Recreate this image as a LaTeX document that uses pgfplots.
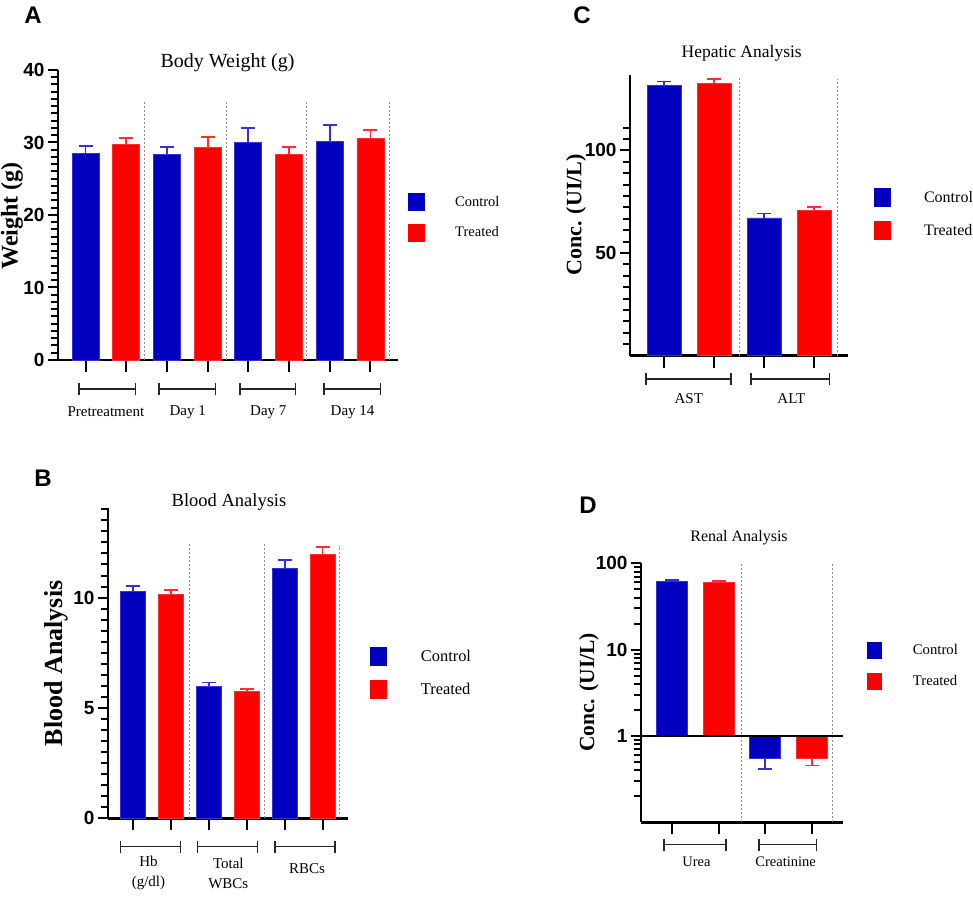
\documentclass[border=0pt]{standalone}
\usepackage{fontspec}
\setmainfont{Liberation Serif}
\setsansfont{Liberation Sans}
\usepackage{pgfplots}
\pgfplotsset{compat=1.18}
\usetikzlibrary{arrows.meta}
\definecolor{cblue}{RGB}{0,0,190}
\definecolor{cred}{RGB}{255,0,0}
\definecolor{eblue}{RGB}{50,50,215}
\definecolor{ered}{RGB}{255,45,45}
\definecolor{sepgray}{RGB}{140,140,140}
\newcommand\tk{\fontsize{19}{19}\selectfont\sffamily\bfseries}
\newcommand\fs[1]{\fontsize{#1}{#1}\selectfont}
\tikzset{brk/.style={line width=1.5pt, black!85, {Bar[width=12pt]}-{Bar[width=12pt]}},
  mtick/.style={black, line width=2pt, line cap=rect}}
\pgfplotsset{
 panel/.style={
  scale only axis, clip=false,
  axis lines*=left,
  axis line style={line width=2.5pt},
  tick align=outside,
  major tick length=10pt,
  tick style={black, line width=2pt},
  xtick=\empty,
  ticklabel style={font=\tk},
  /pgf/number format/assume math mode=true,
  extra x tick style={major tick length=12pt, tick style={line width=2pt}},
  legend cell align=left,
 },
 cbar/.style={ybar, bar shift=0pt, fill=cblue, draw=eblue, line width=0.8pt,
   /pgfplots/error bars/y explicit,
   /pgfplots/error bars/error bar style={line width=1.8pt, eblue},
   /pgfplots/error bars/error mark options={rotate=90, mark size=7pt, line width=1.8pt, eblue}},
 rbar/.style={ybar, bar shift=0pt, fill=cred, draw=ered, line width=0.8pt,
   /pgfplots/error bars/y explicit,
   /pgfplots/error bars/error bar style={line width=1.8pt, ered},
   /pgfplots/error bars/error mark options={rotate=90, mark size=7pt, line width=1.8pt, ered}},
 sep/.style={sepgray, dash pattern=on 2pt off 2pt, line width=1pt, mark=none, forget plot},
}
\begin{document}
\begin{tikzpicture}
\useasboundingbox (0,0) rectangle (973pt,897pt);
% ---------------- Panel A ----------------
\node[font=\fs{24}\sffamily\bfseries] at (33pt,882pt) {A};
\node[font=\fs{20}] at (227.5pt,834pt) {Body Weight (g)};
\node[font=\fs{24}\bfseries, rotate=90] at (12pt,681pt) {Weight (g)};
\begin{axis}[panel, at={(58pt,537pt)}, anchor=south west,
  width=340pt, height=290pt,
  xmin=0.324, xmax=8.676, ymin=0, ymax=40,
  ytick={0,10,20,30,40},
  extra x ticks={1,2,3,4,5,6,7,8}, extra x tick labels={},
  legend style={at={(1.030,0.575)}, anchor=north west, draw=none, fill=none,
    inner sep=0pt, nodes={inner sep=0pt}, font=\fs{14.5}, row sep=12.5pt,
    /tikz/every odd column/.append style={column sep=30pt}},
]
\addplot[cbar, bar width=0.663, /pgfplots/error bars/y dir=plus,
  legend image code/.code={\fill[cblue] (0pt,-8.5pt) rectangle (16pt,8.5pt);}]
  coordinates {(1,28.5) +- (0,1.0) (3,28.4) +- (0,1.0) (5,30.0) +- (0,2.0) (7,30.2) +- (0,2.2)};
\addlegendentry{Control}
\addplot[rbar, bar width=0.663, /pgfplots/error bars/y dir=plus,
  legend image code/.code={\fill[cred] (0pt,-8.5pt) rectangle (16pt,8.5pt);}]
  coordinates {(2,29.7) +- (0,0.9) (4,29.3) +- (0,1.5) (6,28.4) +- (0,1.0) (8,30.6) +- (0,1.1)};
\addlegendentry{Treated}
\addplot[sep] coordinates {(2.46,0) (2.46,35.6)};
\addplot[sep] coordinates {(4.47,0) (4.47,35.6)};
\addplot[sep] coordinates {(6.44,0) (6.44,35.6)};
\addplot[sep] coordinates {(8.46,0) (8.46,35.6)};
\pgfplotsinvokeforeach{1,2,3,4,5,6,7,8,9,11,12,13,14,15,16,17,18,19,21,22,23,24,25,26,27,28,29,31,32,33,34,35,36,37,38,39}{
  \draw[mtick] (axis cs:0.324,#1) -- ++(-6.5pt,0pt);}
\draw[brk] (axis cs:0.816,-4) -- (axis cs:2.241,-4);
\draw[brk] (axis cs:2.781,-4) -- (axis cs:4.206,-4);
\draw[brk] (axis cs:4.771,-4) -- (axis cs:6.172,-4);
\draw[brk] (axis cs:6.835,-4) -- (axis cs:8.260,-4);
\node[font=\fs{15}] at (axis cs:1.50,-7.17) {Pretreatment};
\node[font=\fs{15}] at (axis cs:3.51,-7.17) {Day 1};
\node[font=\fs{15}] at (axis cs:5.49,-7.17) {Day 7};
\node[font=\fs{15}] at (axis cs:7.56,-7.17) {Day 14};
\end{axis}
% ---------------- Panel C ----------------
\node[font=\fs{24}\sffamily\bfseries] at (582pt,882pt) {C};
\node[font=\fs{17.5}] at (741.7pt,844pt) {Hepatic Analysis};
\node[font=\fs{22}\bfseries, rotate=90] at (576pt,682pt) {Conc. (UI/L)};
\begin{axis}[panel, at={(630pt,541.3pt)}, anchor=south west,
  width=218.3pt, height=280.7pt,
  xmin=0.316, xmax=4.678, ymin=0, ymax=136.7,
  ytick={50,100},
  extra x ticks={1,2,3,4}, extra x tick labels={},
  legend style={at={(1.118,0.597)}, anchor=north west, draw=none, fill=none,
    inner sep=0pt, nodes={inner sep=0pt}, font=\fs{16}, row sep=14pt,
    /tikz/every odd column/.append style={column sep=33pt}},
]
\addplot[cbar, bar width=0.67, /pgfplots/error bars/y dir=plus,
  legend image code/.code={\fill[cblue] (0pt,-9pt) rectangle (16pt,9pt);}]
  coordinates {(1,131.5) +- (0,2.0) (3,67.1) +- (0,2.1)};
\addlegendentry{Control}
\addplot[rbar, bar width=0.67, /pgfplots/error bars/y dir=plus,
  legend image code/.code={\fill[cred] (0pt,-9pt) rectangle (16pt,9pt);}]
  coordinates {(2,132.8) +- (0,1.8) (4,70.8) +- (0,1.6)};
\addlegendentry{Treated}
\addplot[sep] coordinates {(2.5,0) (2.5,135.9)};
\addplot[sep] coordinates {(4.46,0) (4.46,134.6)};
\pgfplotsinvokeforeach{5.556,11.111,16.667,22.222,27.778,33.333,38.889,44.444,55.556,61.111,66.667,72.222,77.778,83.333,88.889,94.444,105.556,111.111}{
  \draw[mtick] (axis cs:0.316,#1) -- ++(-6.5pt,0pt);}
\draw[brk] (axis cs:0.616,-11.35) -- (axis cs:2.35,-11.35);
\draw[brk] (axis cs:2.716,-11.35) -- (axis cs:4.316,-11.35);
\node[font=\fs{15}] at (axis cs:1.49,-21.1) {AST};
\node[font=\fs{15}] at (axis cs:3.54,-21.1) {ALT};
\end{axis}
% ---------------- Panel B ----------------
\node[font=\fs{24}\sffamily\bfseries] at (43pt,419pt) {B};
\node[font=\fs{18.5}] at (229pt,395.3pt) {Blood Analysis};
\node[font=\fs{26}\bfseries, rotate=90] at (56pt,233.7pt) {Blood Analysis};
\begin{axis}[panel, at={(108pt,78.7pt)}, anchor=south west,
  width=240.3pt, height=309pt,
  xmin=0.331, xmax=6.68, ymin=0, ymax=14,
  ytick={0,5,10},
  extra x ticks={1,2,3,4,5,6}, extra x tick labels={},
  legend style={at={(1.090,0.555)}, anchor=north west, draw=none, fill=none,
    inner sep=0pt, nodes={inner sep=0pt}, font=\fs{16.4}, row sep=14pt,
    /tikz/every odd column/.append style={column sep=34pt}},
]
\addplot[cbar, bar width=0.66, /pgfplots/error bars/y dir=plus,
  legend image code/.code={\fill[cblue] (0pt,-9pt) rectangle (16pt,9pt);}]
  coordinates {(1,10.28) +- (0,0.26) (3,5.96) +- (0,0.19) (5,11.34) +- (0,0.36)};
\addlegendentry{Control}
\addplot[rbar, bar width=0.66, /pgfplots/error bars/y dir=plus,
  legend image code/.code={\fill[cred] (0pt,-9pt) rectangle (16pt,9pt);}]
  coordinates {(2,10.14) +- (0,0.21) (4,5.75) +- (0,0.11) (6,11.96) +- (0,0.34)};
\addlegendentry{Treated}
\addplot[sep] coordinates {(2.48,0) (2.48,12.45)};
\addplot[sep] coordinates {(4.47,0) (4.47,12.45)};
\addplot[sep] coordinates {(6.45,0) (6.45,12.35)};
\pgfplotsinvokeforeach{0.5,1,1.5,2,2.5,3,3.5,4,4.5,5.5,6,6.5,7,7.5,8,8.5,9,9.5,10.5,11,11.5,12,12.5,13,13.5,14}{
  \draw[mtick] (axis cs:0.331,#1) -- ++(-6.5pt,0pt);}
\draw[brk] (axis cs:0.648,-1.283) -- (axis cs:2.262,-1.283);
\draw[brk] (axis cs:2.677,-1.283) -- (axis cs:4.307,-1.283);
\draw[brk] (axis cs:4.730,-1.283) -- (axis cs:6.354,-1.283);
\node[font=\fontsize{15}{20}\selectfont, align=center] at (axis cs:1.40,-2.49) {Hb\\(g/dl)};
\node[font=\fontsize{15}{20}\selectfont, align=center] at (axis cs:3.51,-2.49) {Total\\WBCs};
\node[font=\fs{15}] at (axis cs:5.59,-2.30) {RBCs};
\end{axis}
% ---------------- Panel D ----------------
\node[font=\fs{24}\sffamily\bfseries] at (588pt,392pt) {D};
\node[font=\fs{16}] at (739pt,359pt) {Renal Analysis};
\node[font=\fs{21.5}\bfseries, rotate=90] at (589pt,204.5pt) {Conc. (UI/L)};
\begin{axis}[panel, ymode=log, at={(641pt,74.7pt)}, anchor=south west,
  width=201.7pt, height=259pt,
  xmin=0.329, xmax=4.667, ymin=0.1, ymax=100,
  ytick={1,10,100}, yticklabels={1,10,100},
  extra x ticks={1,2,3,4}, extra x tick labels={},
  legend style={at={(1.120,0.697)}, anchor=north west, draw=none, fill=none,
    inner sep=0pt, nodes={inner sep=0pt}, font=\fs{14.7}, row sep=14pt,
    /tikz/every odd column/.append style={column sep=31pt}},
]
\addplot[cbar, bar width=0.667, /pgfplots/error bars/y dir=plus,
  legend image code/.code={\fill[cblue] (0pt,-8pt) rectangle (14pt,8pt);}]
  coordinates {(1,62.3) +- (0,1.7)};
\addlegendentry{Control}
\addplot[rbar, bar width=0.667, /pgfplots/error bars/y dir=plus,
  legend image code/.code={\fill[cred] (0pt,-8pt) rectangle (14pt,8pt);}]
  coordinates {(2,60.2) +- (0,2.7)};
\addlegendentry{Treated}
\addplot[cbar, bar width=0.667, /pgfplots/error bars/y dir=minus, forget plot]
  coordinates {(3,0.547) +- (0,0.129)};
\addplot[rbar, bar width=0.667, /pgfplots/error bars/y dir=minus, forget plot]
  coordinates {(4,0.547) +- (0,0.093)};
\addplot[sep] coordinates {(2.48,0.1) (2.48,100)};
\addplot[sep] coordinates {(4.45,0.1) (4.45,100)};
\addplot[black, line width=2.5pt, mark=none, forget plot] coordinates {(0.329,1) (4.667,1)};
\pgfplotsinvokeforeach{0.2,0.3,0.4,0.5,0.6,0.7,0.8,0.9,2,3,4,5,6,7,8,9,20,30,40,50,60,70,80,90}{
  \draw[mtick] (axis cs:0.329,#1) -- ++(-6.5pt,0pt);}
\draw[brk] (axis cs:0.809,0.055) -- (axis cs:2.172,0.055);
\draw[brk] (axis cs:2.852,0.055) -- (axis cs:4.12,0.055);
\node[font=\fs{14.5}] at (axis cs:1.52,0.0345) {Urea};
\node[font=\fs{14.5}] at (axis cs:3.44,0.0345) {Creatinine};
\end{axis}
\end{tikzpicture}
\end{document}
